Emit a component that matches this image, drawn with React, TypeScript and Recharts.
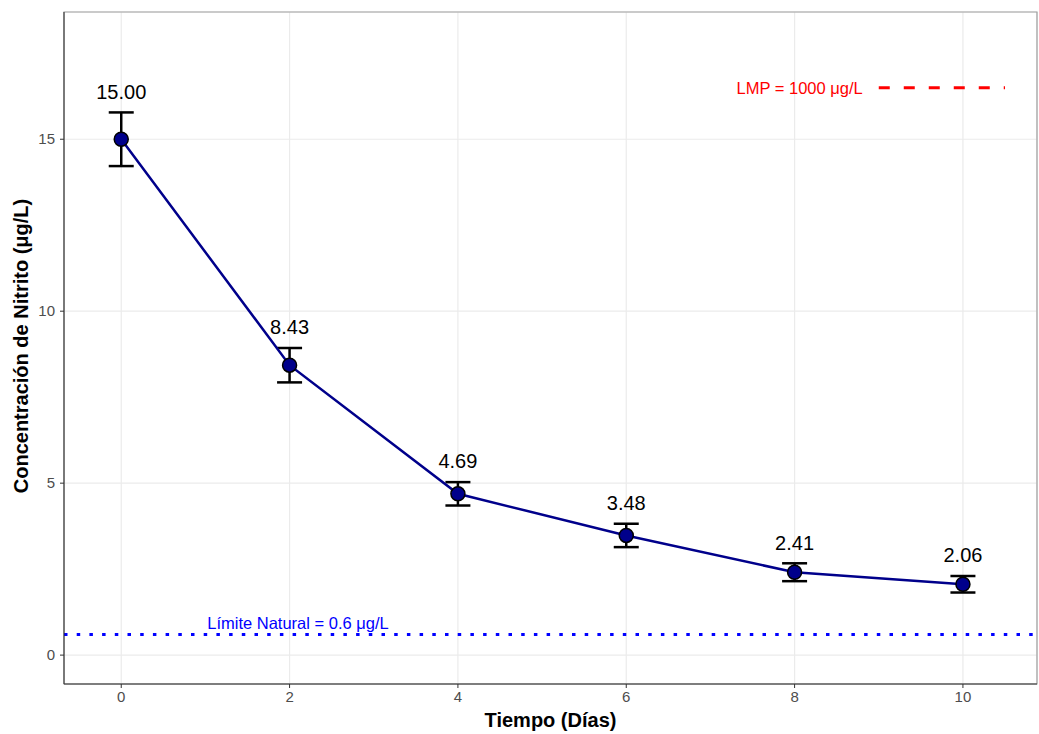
import {
  ComposedChart,
  Line,
  XAxis,
  YAxis,
  CartesianGrid,
  ErrorBar,
  LabelList,
  ReferenceLine,
  ReferenceDot,
  ReferenceArea,
  Label,
} from 'recharts';

const days = [0, 2, 4, 6, 8, 10];
const nitrite = [15.0, 8.43, 4.69, 3.48, 2.41, 2.06];
const sd = [0.78, 0.5, 0.34, 0.34, 0.26, 0.24];
const xTicks = [0, 2, 4, 6, 8, 10];
const yTicks = [0, 5, 10, 15];

const naturalLimit = 0.6;
const lmpY = 16.5;

const FONT = '"Liberation Sans", Arial, sans-serif';

const data = days.map((d, i) => ({
  day: d,
  mean: nitrite[i],
  err: sd[i],
  labelY: nitrite[i] + sd[i] + 0.6,
  label: nitrite[i].toFixed(2),
}));

const xDomain = [-0.68, 10.88];
const yDomain = [-0.84, 18.7];

const XTick = (p: any) => (
  <text x={p.x} y={p.y + 12} textAnchor="middle" fill="#4d4d4d" fontSize={15} fontFamily={FONT}>
    {p.payload.value}
  </text>
);

const YTick = (p: any) => (
  <text x={p.x - 3} y={p.y + 5} textAnchor="end" fill="#4d4d4d" fontSize={15} fontFamily={FONT}>
    {p.payload.value}
  </text>
);

export default function App() {
  return (
    <div style={{ position: 'absolute', left: 0, top: 0, width: 1039, height: 734, background: '#fff' }}>
      <ComposedChart
        width={1039}
        height={734}
        data={data}
        margin={{ top: 12, right: 2, left: 0, bottom: 0 }}
        style={{ fontFamily: FONT }}
      >
        <CartesianGrid stroke="#ebebeb" strokeWidth={1.2} />
        <XAxis
          type="number"
          dataKey="day"
          domain={xDomain}
          ticks={xTicks}
          allowDataOverflow
          height={50}
          tickSize={4}
          tickLine={{ stroke: '#333' }}
          axisLine={{ stroke: '#333' }}
          tick={XTick}
        >
          <Label
            value="Tiempo (Días)"
            position="insideBottom"
            offset={7}
            style={{ fontWeight: 'bold', fontSize: 20, fill: '#000' }}
          />
        </XAxis>
        <YAxis
          type="number"
          domain={yDomain}
          ticks={yTicks}
          allowDataOverflow
          width={64}
          tickSize={4}
          tickLine={{ stroke: '#333' }}
          axisLine={{ stroke: '#333' }}
          tick={YTick}
        >
          <Label
            content={() => (
              <text
                x={21}
                y={346}
                transform="rotate(-90, 21, 346)"
                textAnchor="middle"
                dominantBaseline="central"
                style={{ fontWeight: 'bold', fontSize: 20, fill: '#000', fontFamily: FONT }}
              >
                Concentración de Nitrito (μg/L)
              </text>
            )}
          />
        </YAxis>
        <ReferenceArea
          x1={xDomain[0]}
          x2={xDomain[1]}
          y1={yDomain[0]}
          y2={yDomain[1]}
          fill="none"
          stroke="#a0a0a0"
          strokeWidth={1.2}
        />
        <ReferenceLine
          y={naturalLimit}
          stroke="#0000ff"
          strokeWidth={3}
          strokeDasharray="3.5 9.2"
        />
        <ReferenceLine
          segment={[
            { x: 9, y: lmpY },
            { x: 10.5, y: lmpY },
          ]}
          stroke="#ff0000"
          strokeWidth={3}
          strokeDasharray="11 14"
        />
        <ReferenceDot
          x={2.1}
          y={0.93}
          shape={(p: any) => (
            <text
              x={p.cx}
              y={p.cy}
              textAnchor="middle"
              dominantBaseline="central"
              fill="#0000ff"
              fontSize={16.5}
              fontFamily={FONT}
            >
              Límite Natural = 0.6 μg/L
            </text>
          )}
        />
        <ReferenceDot
          x={8.06}
          y={lmpY}
          shape={(p: any) => (
            <text
              x={p.cx}
              y={p.cy}
              textAnchor="middle"
              dominantBaseline="central"
              fill="#ff0000"
              fontSize={16.5}
              fontFamily={FONT}
            >
              LMP = 1000 μg/L
            </text>
          )}
        />
        <Line
          dataKey="mean"
          stroke="#00008b"
          strokeWidth={2.5}
          isAnimationActive={false}
          dot={{ r: 7, fill: '#00008b', stroke: '#000', strokeWidth: 1.5 }}
          activeDot={false}
        >
          <ErrorBar dataKey="err" width={12.5} stroke="#000" strokeWidth={2.5} direction="y" />
        </Line>
        <Line
          dataKey="labelY"
          stroke="none"
          dot={false}
          activeDot={false}
          isAnimationActive={false}
        >
          <LabelList
            dataKey="label"
            content={(p: any) => (
              <text
                x={p.x}
                y={p.y}
                textAnchor="middle"
                dominantBaseline="central"
                fill="#000"
                fontSize={20}
                fontFamily={FONT}
              >
                {p.value}
              </text>
            )}
          />
        </Line>
      </ComposedChart>
    </div>
  );
}
